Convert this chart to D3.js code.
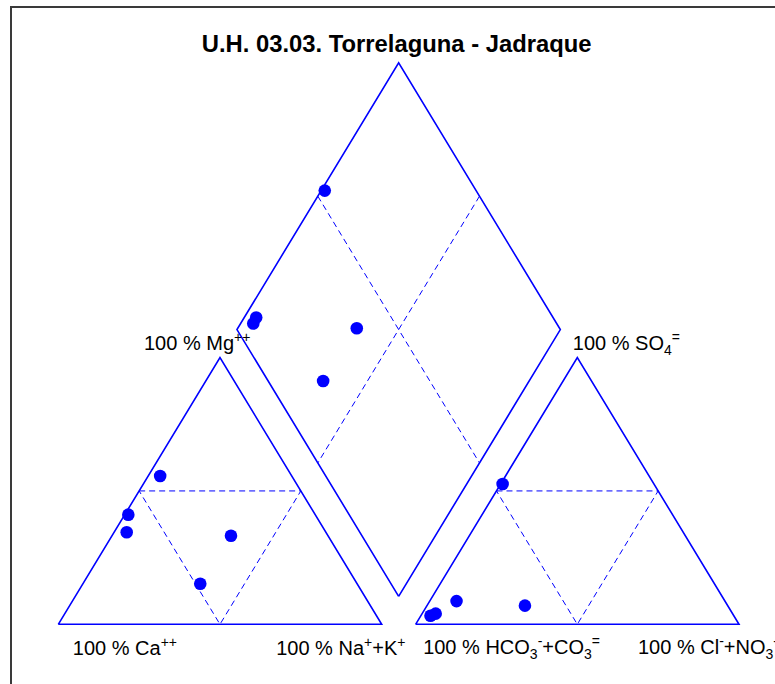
<!DOCTYPE html>
<html>
<head>
<meta charset="utf-8">
<script src="https://cdn.jsdelivr.net/npm/d3@7"></script>
<style>
body { margin: 0; background: #fff; }
text { font-family: Arial, "Liberation Sans", sans-serif; fill: #000; }
</style>
</head>
<body>
<div id="piper"></div>
<script>
// Piper diagram - U.H. 03.03
const width = 775
const height = 684

// cations (% meq/l), one entry per sample
const ca = [57.8, 40.7, 61.6, 30.0, 48.5]
const mg = [41.1, 55.6, 34.5, 33.2, 15.2]
const naK = [1.1, 3.7, 3.9, 36.8, 36.3]
// anions (% meq/l)
const hco3 = [46.8, 91.8, 93.8, 62.7, 83.0]
const so4 = [52.6, 4.0, 3.2, 7.0, 8.7]
const clNo3 = [0.6, 4.2, 3.0, 30.3, 8.3]

const title = 'U.H. 03.03. Torrelaguna - Jadraque'

const blue = '#0000ff'
const gap = 0.105
const h = Math.sqrt(3) / 2

const svg = d3.select('#piper').append('svg')
    .attr('width', width)
    .attr('height', height)

const x = d3.scaleLinear().domain([0, 2 + gap]).range([58.3, 739])
const y = d3.scaleLinear().domain([0, 1]).range([624.3, 316.3])

const line = d3.line().x(d => x(d[0])).y(d => y(d[1]))

// outer frame (runs off the picture on the right and bottom)
svg.append('rect')
    .attr('x', 11).attr('y', 7)
    .attr('width', 820).attr('height', 720)
    .attr('fill', 'none')
    .attr('stroke', '#3a3a3a')
    .attr('stroke-width', 2)

// geometry
const x0 = 1 + gap          // start of anion triangle
const b = [1 + gap / 2, gap / 2 * Math.sqrt(3)]   // bottom of diamond
const dLeft = [b[0] - 0.5, b[1] + h]
const dTop = [b[0], b[1] + 2 * h]
const dRight = [b[0] + 0.5, b[1] + h]
const mid = (p, q) => [(p[0] + q[0]) / 2, (p[1] + q[1]) / 2]

const outlines = [
    [[0, 0], [1, 0], [0.5, h], [0, 0]],
    [[x0, 0], [x0 + 1, 0], [x0 + 0.5, h], [x0, 0]],
    [b, dRight, dTop, dLeft, b]
]
const dashes = [
    [[0.25, h / 2], [0.75, h / 2], [0.5, 0], [0.25, h / 2]],
    [[x0 + 0.25, h / 2], [x0 + 0.75, h / 2], [x0 + 0.5, 0], [x0 + 0.25, h / 2]],
    [mid(dTop, dLeft), mid(b, dRight)],
    [mid(dTop, dRight), mid(b, dLeft)]
]

svg.append('g').selectAll('path')
    .data(dashes)
    .join('path')
    .attr('d', line)
    .attr('fill', 'none')
    .attr('stroke', blue)
    .attr('stroke-width', 1)
    .attr('stroke-dasharray', '6,4')

svg.append('g').selectAll('path')
    .data(outlines)
    .join('path')
    .attr('d', line)
    .attr('fill', 'none')
    .attr('stroke', blue)
    .attr('stroke-width', 1.6)
    .attr('stroke-linejoin', 'miter')

// points: cation triangle, anion triangle and their projection in the diamond
const pts = []
ca.forEach((c, i) => {
    const m = mg[i] / 100, n = naK[i] / 100
    const s = so4[i] / 100, cl = clNo3[i] / 100
    const a = (c + mg[i]) / 100, bb = (so4[i] + clNo3[i]) / 100
    pts.push([n + 0.5 * m, h * m])
    pts.push([x0 + cl + 0.5 * s, h * s])
    pts.push([b[0] + 0.5 * (bb - a), b[1] + h * (a + bb)])
})

svg.append('g').selectAll('circle')
    .data(pts)
    .join('circle')
    .attr('cx', d => x(d[0]))
    .attr('cy', d => y(d[1]))
    .attr('r', 6.3)
    .attr('fill', blue)

// title
svg.append('text')
    .attr('x', x(b[0]) - 2)
    .attr('y', 52)
    .attr('text-anchor', 'middle')
    .attr('font-size', 23.8)
    .attr('font-weight', 'bold')
    .text(title)

// labels with super / subscripts
function label(parts, px, py) {
    const t = svg.append('text').attr('x', px).attr('y', py).attr('font-size', 20)
    let shift = 0
    parts.forEach(([s, k]) => {
        const off = k === 'sup' ? -8 : k === 'sub' ? 5 : 0
        t.append('tspan')
            .attr('dy', off - shift)
            .attr('font-size', k ? 14 : 20)
            .text(s)
        shift = off
    })
}

label([['100 % Mg'], ['++', 'sup']], x(0.5) - 76, 349.5)
label([['100 % SO'], ['4', 'sub'], ['=', 'sup']], x(x0 + 0.5) - 4.5, 349.5)
label([['100 % Ca'], ['++', 'sup']], x(0) + 14.5, 655)
label([['100 % Na'], ['+', 'sup'], ['+K'], ['+', 'sup']], x(1) - 105.5, 655)
label([['100 % HCO'], ['3', 'sub'], ['-', 'sup'], ['+CO'], ['3', 'sub'], ['=', 'sup']], x(x0) + 7.5, 654)
label([['100 % Cl'], ['-', 'sup'], ['+NO'], ['3', 'sub'], ['-', 'sup']], x(x0 + 1) - 101, 654)
</script>
</body>
</html>
